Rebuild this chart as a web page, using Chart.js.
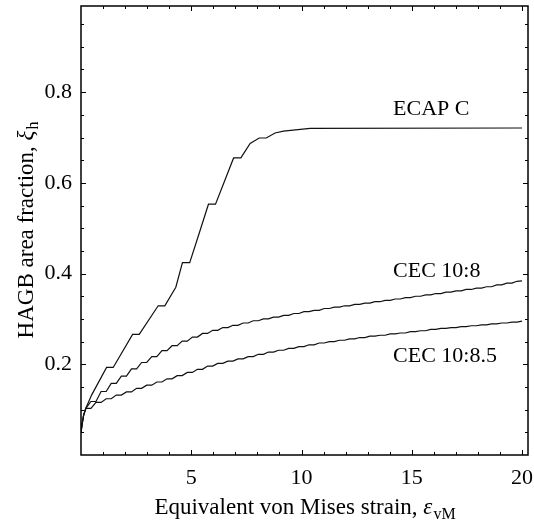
<!DOCTYPE html>
<html>
<head>
<meta charset="utf-8">
<script src="https://cdn.jsdelivr.net/npm/chart.js@4.4.0/dist/chart.umd.min.js"></script>
<style>
html, body { margin: 0; padding: 0; background: #fff; }
#wrap { width: 534px; height: 524px; }
</style>
</head>
<body>
<div id="wrap"><canvas id="chart" width="534" height="524"></canvas></div>
<script>
// curve vertices [strain, fraction]
var ecapC = [
    [0, 0.05], [0.05, 0.068], [0.12, 0.088], [0.22, 0.103], [0.48, 0.132],
    [1.16, 0.193], [1.46, 0.193], [2.34, 0.266], [2.64, 0.266], [3.50, 0.329],
    [3.80, 0.329], [4.30, 0.370], [4.60, 0.424], [4.93, 0.424], [5.36, 0.489],
    [5.78, 0.553], [6.10, 0.553], [6.92, 0.655], [7.25, 0.655], [7.67, 0.687],
    [8.08, 0.699], [8.40, 0.699], [8.80, 0.710], [9.18, 0.714], [10.39, 0.720],
    [20, 0.721]
];
var cec108 = [
    [0, 0.05], [0.05, 0.068], [0.12, 0.088], [0.22, 0.103],
    [0.45, 0.118], [0.68, 0.118], [0.91, 0.140], [1.14, 0.140],
    [1.37, 0.158], [1.60, 0.158], [1.83, 0.174], [2.06, 0.174],
    [2.29, 0.190], [2.52, 0.190], [2.75, 0.204], [2.98, 0.204],
    [3.21, 0.217], [3.44, 0.217], [3.67, 0.230], [3.90, 0.230],
    [4.13, 0.241], [4.36, 0.241], [4.59, 0.251], [4.82, 0.251],
    [5.05, 0.260], [5.28, 0.260], [5.51, 0.268], [5.74, 0.268],
    [5.97, 0.275], [6.20, 0.275], [6.43, 0.281], [6.66, 0.281],
    [6.89, 0.286], [7.12, 0.286], [7.35, 0.291], [7.58, 0.291],
    [7.81, 0.296], [8.04, 0.296], [8.27, 0.300], [8.50, 0.300],
    [8.73, 0.304], [8.96, 0.304], [9.19, 0.308], [9.42, 0.308],
    [9.65, 0.312], [9.88, 0.312], [10.11, 0.316], [10.34, 0.316],
    [10.57, 0.319], [10.80, 0.319], [11.03, 0.323], [11.26, 0.323],
    [11.49, 0.326], [11.72, 0.326], [11.95, 0.329], [12.18, 0.329],
    [12.41, 0.332], [12.64, 0.332], [12.87, 0.335], [13.10, 0.335],
    [13.33, 0.338], [13.56, 0.338], [13.79, 0.341], [14.02, 0.341],
    [14.25, 0.344], [14.48, 0.344], [14.71, 0.347], [14.94, 0.347],
    [15.17, 0.350], [15.40, 0.350], [15.63, 0.353], [15.86, 0.353],
    [16.09, 0.356], [16.32, 0.356], [16.55, 0.359], [16.78, 0.359],
    [17.01, 0.362], [17.24, 0.362], [17.47, 0.365], [17.70, 0.365],
    [17.93, 0.368], [18.16, 0.368], [18.39, 0.371], [18.62, 0.371],
    [18.85, 0.375], [19.08, 0.375], [19.31, 0.379], [19.54, 0.379],
    [19.77, 0.383], [20.00, 0.384]
];
var cec1085 = [
    [0, 0.05], [0.05, 0.068], [0.12, 0.088], [0.22, 0.103],
    [0.45, 0.103], [0.68, 0.116], [0.91, 0.116], [1.14, 0.124],
    [1.37, 0.124], [1.60, 0.132], [1.83, 0.132], [2.06, 0.139],
    [2.29, 0.139], [2.52, 0.147], [2.75, 0.147], [2.98, 0.154],
    [3.21, 0.154], [3.44, 0.161], [3.67, 0.161], [3.90, 0.168],
    [4.13, 0.168], [4.36, 0.175], [4.59, 0.175], [4.82, 0.182],
    [5.05, 0.182], [5.28, 0.189], [5.51, 0.189], [5.74, 0.196],
    [5.97, 0.196], [6.20, 0.202], [6.43, 0.202], [6.66, 0.207],
    [6.89, 0.207], [7.12, 0.212], [7.35, 0.212], [7.58, 0.217],
    [7.81, 0.217], [8.04, 0.222], [8.27, 0.222], [8.50, 0.227],
    [8.73, 0.227], [8.96, 0.231], [9.19, 0.231], [9.42, 0.235],
    [9.65, 0.235], [9.88, 0.239], [10.11, 0.239], [10.34, 0.243],
    [10.57, 0.243], [10.80, 0.247], [11.03, 0.247], [11.26, 0.250],
    [11.49, 0.250], [11.72, 0.253], [11.95, 0.253], [12.18, 0.256],
    [12.41, 0.256], [12.64, 0.259], [12.87, 0.259], [13.10, 0.262],
    [13.33, 0.262], [13.56, 0.264], [13.79, 0.264], [14.02, 0.267],
    [14.25, 0.267], [14.48, 0.269], [14.71, 0.269], [14.94, 0.272],
    [15.17, 0.272], [15.40, 0.274], [15.63, 0.274], [15.86, 0.277],
    [16.09, 0.277], [16.32, 0.279], [16.55, 0.279], [16.78, 0.281],
    [17.01, 0.281], [17.24, 0.283], [17.47, 0.283], [17.70, 0.285],
    [17.93, 0.285], [18.16, 0.287], [18.39, 0.287], [18.62, 0.289],
    [18.85, 0.289], [19.08, 0.291], [19.31, 0.291], [19.54, 0.293],
    [19.77, 0.293], [20.00, 0.295]
];
var seriesNames = ["ECAP C", "CEC 10:8", "CEC 10:8.5"];
var xMajorTicks = [5, 10, 15, 20];
var xMinorTicks = [1, 2, 3, 4, 6, 7, 8, 9, 11, 12, 13, 14, 16, 17, 18, 19];
var yMajorTicks = [0.2, 0.4, 0.6, 0.8];
var yMinorTicks = [0.05, 0.1, 0.15, 0.25, 0.3, 0.35, 0.45, 0.5, 0.55, 0.65, 0.7, 0.75, 0.85, 0.9, 0.95];

// where the curve names sit (data units, left/baseline)
var labelAnchors = [[14.15, 0.749], [14.15, 0.393], [14.15, 0.204]];

var serif = "'Liberation Serif', 'Times New Roman', serif";

function toPoints(arr) {
    return arr.map(function (p) { return { x: p[0], y: p[1] }; });
}

var decorPlugin = {
    id: 'decor',
    afterDatasetsDraw: function (chart) {
        var ctx = chart.ctx;
        var a = chart.chartArea;
        var xs = chart.scales.x;
        var ys = chart.scales.y;

        function seg(x1, y1, x2, y2) {
            ctx.beginPath();
            ctx.moveTo(x1, y1);
            ctx.lineTo(x2, y2);
            ctx.stroke();
        }

        ctx.save();
        ctx.strokeStyle = '#000';
        ctx.lineWidth = 1;

        // inward ticks on all four sides
        xMajorTicks.concat(xMinorTicks).forEach(function (v) {
            var len = xMajorTicks.indexOf(v) >= 0 ? 5 : 3;
            var px = Math.round(xs.getPixelForValue(v)) + 0.5;
            seg(px, a.bottom, px, a.bottom - len);
            seg(px, a.top, px, a.top + len);
        });
        yMajorTicks.concat(yMinorTicks).forEach(function (v) {
            var len = yMajorTicks.indexOf(v) >= 0 ? 5 : 3;
            var py = Math.round(ys.getPixelForValue(v)) + 0.5;
            seg(a.left, py, a.left + len, py);
            seg(a.right, py, a.right - len, py);
        });

        // frame
        ctx.lineWidth = 1.5;
        ctx.strokeRect(a.left, a.top, a.right - a.left, a.bottom - a.top);

        // curve names
        ctx.fillStyle = '#000';
        ctx.font = '22px ' + serif;
        ctx.textAlign = 'left';
        ctx.textBaseline = 'alphabetic';
        seriesNames.forEach(function (name, i) {
            ctx.fillText(name, xs.getPixelForValue(labelAnchors[i][0]), ys.getPixelForValue(labelAnchors[i][1]));
        });

        // x axis title with subscript
        var main = 'Equivalent von Mises strain, ';
        var big = '23px ' + serif, ital = 'italic 23px ' + serif, small = '16px ' + serif;
        ctx.font = big; var w1 = ctx.measureText(main).width;
        ctx.font = ital; var w2 = ctx.measureText('\u03b5').width;
        ctx.font = small; var w3 = ctx.measureText('vM').width;
        var cx = (a.left + a.right) / 2;
        var x0 = cx - (w1 + w2 + w3) / 2;
        var base = 514;
        ctx.font = big; ctx.fillText(main, x0, base);
        ctx.font = ital; ctx.fillText('\u03b5', x0 + w1, base);
        ctx.font = small; ctx.fillText('vM', x0 + w1 + w2 + 1, base + 5);

        // y axis title, rotated
        var mainY = 'HAGB area fraction, ';
        ctx.font = big; var v1 = ctx.measureText(mainY).width;
        ctx.font = ital; var v2 = ctx.measureText('\u03be').width;
        ctx.font = small; var v3 = ctx.measureText('h').width;
        ctx.translate(33, (a.top + a.bottom) / 2);
        ctx.rotate(-Math.PI / 2);
        var y0 = -(v1 + v2 + v3) / 2;
        ctx.font = big; ctx.fillText(mainY, y0, 0);
        ctx.font = ital; ctx.fillText('\u03be', y0 + v1, 0);
        ctx.font = small; ctx.fillText('h', y0 + v1 + v2 + 1, 5);

        ctx.restore();
    }
};

function lineSet(label, arr) {
    return {
        label: label,
        data: toPoints(arr),
        showLine: true,
        borderColor: '#111',
        borderWidth: 1.2,
        pointRadius: 0,
        tension: 0,
        fill: false
    };
}

document.addEventListener("DOMContentLoaded", function () {
    var ctx = document.getElementById("chart").getContext("2d");
    new Chart(ctx, {
        type: 'scatter',
        data: {
            datasets: [
                lineSet(seriesNames[0], ecapC),
                lineSet(seriesNames[1], cec108),
                lineSet(seriesNames[2], cec1085)
            ]
        },
        options: {
            responsive: false,
            animation: false,
            devicePixelRatio: 1,
            layout: { padding: { top: 6, right: 6, left: 0, bottom: 0 } },
            plugins: {
                legend: { display: false },
                tooltip: { enabled: false }
            },
            scales: {
                x: {
                    type: 'linear',
                    min: 0,
                    max: 20.27,
                    grid: { display: false, drawTicks: false },
                    border: { display: false },
                    afterBuildTicks: function (scale) {
                        scale.ticks = xMajorTicks.map(function (v) { return { value: v }; });
                    },
                    afterFit: function (scale) {
                        scale.height = 69;
                        scale.paddingLeft = 0;
                        scale.paddingRight = 0;
                    },
                    ticks: {
                        color: '#000',
                        padding: 10,
                        maxRotation: 0,
                        autoSkip: false,
                        font: { family: serif, size: 22 },
                        callback: function (v) { return String(v); }
                    }
                },
                y: {
                    type: 'linear',
                    min: 0,
                    max: 0.99,
                    grid: { display: false, drawTicks: false },
                    border: { display: false },
                    afterBuildTicks: function (scale) {
                        scale.ticks = yMajorTicks.map(function (v) { return { value: v }; });
                    },
                    afterFit: function (scale) {
                        scale.width = 81;
                        scale.paddingTop = 0;
                        scale.paddingBottom = 0;
                    },
                    ticks: {
                        color: '#000',
                        padding: 9,
                        autoSkip: false,
                        font: { family: serif, size: 22 },
                        callback: function (v) { return Number(v).toFixed(1); }
                    }
                }
            }
        },
        plugins: [decorPlugin]
    });
});
</script>
</body>
</html>
